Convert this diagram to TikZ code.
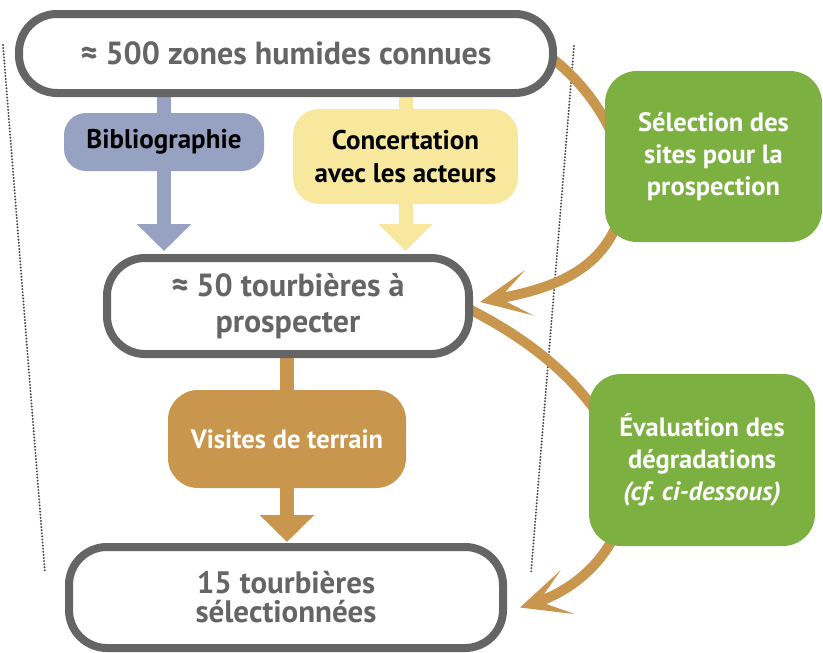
\documentclass[tikz,border=0pt]{standalone}
\usepackage{fontspec}
\setmainfont{PT Sans}
\usetikzlibrary{arrows.meta,calc}
\pgfdeclarelayer{background}
\pgfsetlayers{background,main}
\definecolor{frame}{HTML}{656565}
\definecolor{bibc}{HTML}{97A1C1}
\definecolor{yelc}{HTML}{F8E89E}
\definecolor{tanc}{HTML}{C8964C}
\definecolor{grnc}{HTML}{7CB041}
\definecolor{dotc}{HTML}{4A4A4A}
\tikzset{
  bigbox/.style={draw=frame, line width=8pt, fill=white, rounded corners=38pt, inner sep=0pt, align=center, text=frame},
  smallbox/.style={rounded corners=26pt, inner sep=0pt, align=center},
  greenbox/.style={fill=grnc, rounded corners=32pt, inner sep=0pt, align=center, text=white, font=\bfseries\fontsize{26.5}{32}\selectfont},
  downarrow/.style={line width=14pt, -{Triangle[length=27pt,width=53pt]}},
  loop/.style={draw=tanc, line width=10pt, -{Stealth[length=50pt,width=46pt,inset=30pt]}},
  sep/.style={draw=dotc, line width=2.2pt, line cap=round, dash pattern=on 0pt off 3.1pt}
}
\begin{document}
\begin{tikzpicture}[x=1pt,y=-1pt]
\useasboundingbox (0,0) rectangle (823,653);
% main boxes
\node[bigbox, minimum width=534pt, minimum height=79pt, font=\bfseries\fontsize{32}{36}\selectfont] (top) at (286,53.5)
  {≈ 500 zones humides connues};
\node[bigbox, minimum width=362pt, minimum height=96pt, font=\bfseries\fontsize{32}{36}\selectfont] (mid) at (288,306)
  {≈ 50 tourbières à\\prospecter};
\node[bigbox, minimum width=434pt, minimum height=101pt, font=\bfseries\fontsize{31}{29}\selectfont] (bot) at (286,597.5)
  {15 tourbières\\sélectionnées};
% intermediate boxes
\node[smallbox, fill=bibc, minimum width=200pt, minimum height=58pt, rounded corners=22pt, font=\bfseries\fontsize{27}{32}\selectfont] (bib) at (164,142)
  {Bibliographie};
\node[smallbox, fill=yelc, minimum width=225pt, minimum height=95pt, font=\bfseries\fontsize{27}{33}\selectfont] (yel) at (405.5,156.5)
  {Concertation\\avec les acteurs};
\node[smallbox, fill=tanc, text=white, minimum width=238pt, minimum height=98pt, rounded corners=30pt, font=\bfseries\fontsize{26.5}{32}\selectfont] (vis) at (287,439)
  {Visites de terrain};
% green boxes
\node[greenbox, minimum width=217pt, minimum height=171pt] (g1) at (713.5,156.5)
  {Sélection des\\sites pour la\\prospection};
\node[greenbox, minimum width=226pt, minimum height=172pt] (g2) at (702,460)
  {Évaluation des\\dégradations\\{\itshape (cf.\ ci-dessous)}};
% dotted separators
\coordinate (dl1) at (3,45);
\coordinate (dl2) at (45,573);
\coordinate (dr1) at (574,46);
\coordinate (dr2) at (531,573);
\begin{pgfonlayer}{background}
  \draw[sep] (dl1) -- (dl2);
  \draw[sep] (dr1) -- (dr2);
  % vertical arrows
  \draw[downarrow, draw=bibc] (top.south -| bib.center) -- ($(bib.center |- mid.north)+(0,-3)$);
  \draw[downarrow, draw=yelc] (top.south -| yel.center) -- ($(yel.center |- mid.north)+(0,-3)$);
  \draw[downarrow, draw=tanc] (mid.south -| vis.center) -- ($(vis.center |- bot.north)+(0,-1)$);
  % curved loops through the green boxes
  \draw[loop] ($(top.east)+(-6,4)$) .. controls (600,95) and (635,160) .. (622,210)
    .. controls (605,270) and (555,288) .. ($(mid.east)+(7,-4)$);
  \draw[loop] ($(mid.east)+(-4,3)$) .. controls (530,340) and (600,390) .. (625,470)
    .. controls (635,530) and (590,585) .. ($(bot.east)+(13,10)$);
\end{pgfonlayer}
\end{tikzpicture}
\end{document}
